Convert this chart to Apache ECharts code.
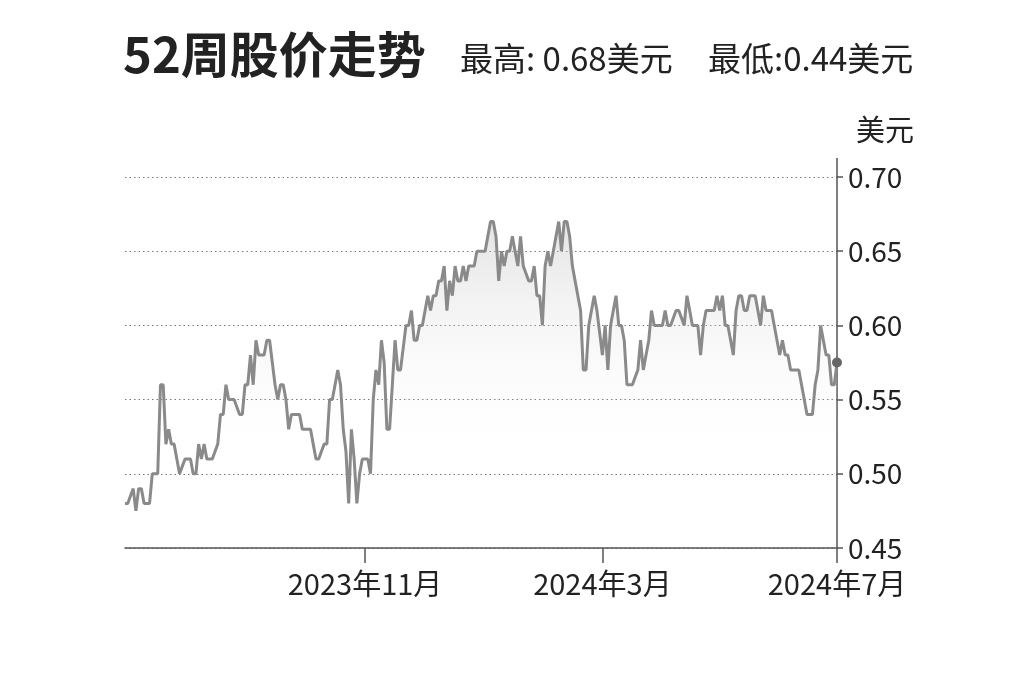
<!DOCTYPE html>
<html>
<head>
<meta charset="utf-8">
<script src="https://cdn.jsdelivr.net/npm/echarts@6/dist/echarts.min.js"></script>
<style>
  html, body { margin: 0; padding: 0; background: #fff; }
  #chart { width: 1024px; height: 682px; }
</style>
</head>
<body>
<div id="chart"></div>
<script>
// 每日收盘价(美元), 从 2023-06-30 起逐个交易日
const prices = [
    0.48, 0.48, 0.485, 0.49, 0.475, 0.49, 0.49, 0.48, 0.48, 0.48,
    0.50, 0.50, 0.50, 0.56, 0.56, 0.52, 0.53, 0.52, 0.52, 0.51,
    0.50, 0.505, 0.51, 0.51, 0.51, 0.50, 0.50, 0.52, 0.51, 0.52,
    0.51, 0.51, 0.51, 0.515, 0.52, 0.54, 0.54, 0.56, 0.55, 0.55,
    0.55, 0.545, 0.54, 0.54, 0.56, 0.56, 0.58, 0.56, 0.59, 0.58,
    0.58, 0.58, 0.59, 0.59, 0.575, 0.56, 0.55, 0.56, 0.56, 0.55,
    0.53, 0.54, 0.54, 0.54, 0.54, 0.53, 0.53, 0.53, 0.53, 0.52,
    0.51, 0.51, 0.515, 0.52, 0.52, 0.55, 0.55, 0.56, 0.57, 0.56,
    0.53, 0.515, 0.48, 0.53, 0.51, 0.48, 0.50, 0.51, 0.51, 0.51,
    0.50, 0.55, 0.57, 0.56, 0.59, 0.575, 0.53, 0.53, 0.56, 0.59,
    0.57, 0.57, 0.585, 0.60, 0.60, 0.61, 0.59, 0.59, 0.60, 0.60,
    0.61, 0.62, 0.61, 0.62, 0.62, 0.63, 0.63, 0.64, 0.61, 0.63,
    0.62, 0.64, 0.63, 0.63, 0.64, 0.63, 0.64, 0.64, 0.64, 0.65,
    0.65, 0.65, 0.65, 0.66, 0.67, 0.67, 0.66, 0.63, 0.65, 0.64,
    0.65, 0.65, 0.66, 0.65, 0.64, 0.66, 0.64, 0.635, 0.63, 0.63,
    0.64, 0.62, 0.62, 0.60, 0.64, 0.65, 0.64, 0.65, 0.66, 0.67,
    0.65, 0.67, 0.67, 0.66, 0.64, 0.63, 0.62, 0.61, 0.57, 0.57,
    0.60, 0.61, 0.62, 0.61, 0.595, 0.58, 0.60, 0.57, 0.60, 0.61,
    0.62, 0.60, 0.60, 0.59, 0.56, 0.56, 0.56, 0.565, 0.57, 0.59,
    0.57, 0.58, 0.59, 0.61, 0.60, 0.60, 0.60, 0.60, 0.61, 0.60,
    0.60, 0.605, 0.61, 0.61, 0.605, 0.60, 0.62, 0.61, 0.60, 0.60,
    0.60, 0.58, 0.60, 0.61, 0.61, 0.61, 0.61, 0.62, 0.61, 0.62,
    0.60, 0.60, 0.59, 0.58, 0.61, 0.62, 0.62, 0.61, 0.61, 0.62,
    0.62, 0.62, 0.61, 0.60, 0.62, 0.61, 0.61, 0.61, 0.60, 0.59,
    0.58, 0.59, 0.58, 0.58, 0.57, 0.57, 0.57, 0.57, 0.56, 0.55,
    0.54, 0.54, 0.54, 0.56, 0.57, 0.60, 0.59, 0.58, 0.58, 0.56,
    0.56, 0.575
];
const startDate = '2023-06-30';
const tickDates = ['2023-11-01', '2024-03-01', '2024-07-01'];
const yTicks = [0.45, 0.50, 0.55, 0.60, 0.65, 0.70];
const title = '52周股价走势';
const highText = '最高: 0.68美元';
const lowText = '最低:0.44美元';
const unit = '美元';

// 交易日(跳过周末)
const dates = [];
let d = new Date(startDate + 'T00:00:00Z');
while (dates.length < prices.length) {
    const wd = d.getUTCDay();
    if (wd !== 0 && wd !== 6) dates.push(d.toISOString().slice(0, 10));
    d = new Date(d.getTime() + 86400000);
}

const isTick = (idx, val) => tickDates.indexOf(val) >= 0;
const font = '"Noto Sans CJK SC", "Noto Sans", sans-serif';
const axisColor = '#555';
const subStyle = {fontSize: 33, fontWeight: 'normal', color: '#222', fontFamily: font};

const chart = echarts.init(document.getElementById('chart'));
chart.setOption({
    animation: false,
    backgroundColor: '#fff',
    textStyle: {fontFamily: font},
    title: [{
        text: title,
        left: 118,
        top: 25,
        textStyle: {fontSize: 49, fontWeight: 'bold', color: '#222', fontFamily: font}
    }, {
        text: highText,
        left: 455,
        top: 37,
        textStyle: subStyle
    }, {
        text: lowText,
        left: 703,
        top: 37,
        textStyle: subStyle
    }, {
        text: unit,
        left: 851,
        top: 110,
        textStyle: {fontSize: 29, fontWeight: 'normal', color: '#222', fontFamily: font}
    }],
    grid: {left: 125, right: 187, top: 177, bottom: 134},
    xAxis: {
        type: 'category',
        data: dates,
        boundaryGap: false,
        axisLine: {lineStyle: {color: axisColor, width: 1.5}},
        axisTick: {show: true, interval: isTick, length: 15, lineStyle: {color: axisColor, width: 1.5}},
        axisLabel: {
            interval: isTick,
            margin: 21,
            fontSize: 29,
            color: '#222',
            fontFamily: font,
            formatter: v => {
                const p = v.split('-');
                return p[0] + '年' + parseInt(p[1], 10) + '月';
            }
        },
        splitLine: {show: false}
    },
    yAxis: {
        type: 'value',
        position: 'right',
        min: yTicks[0],
        max: yTicks[yTicks.length - 1],
        interval: 0.05,
        axisLine: {show: true, lineStyle: {color: axisColor, width: 1.5}},
        axisTick: {show: true, length: 6, lineStyle: {color: axisColor, width: 1.5}},
        axisLabel: {
            margin: 11,
            fontSize: 28,
            color: '#222',
            fontFamily: font,
            formatter: v => v.toFixed(2)
        },
        splitLine: {show: true, lineStyle: {color: '#777', type: [1.5, 3], width: 1.2}}
    },
    graphic: [{
        // 纵轴向上延伸
        type: 'line',
        shape: {x1: 837, y1: 158, x2: 837, y2: 177},
        style: {stroke: axisColor, lineWidth: 1.5}
    }],
    series: [{
        type: 'line',
        data: prices,
        symbol: 'none',
        lineStyle: {color: '#8a8a8a', width: 3},
        areaStyle: {
            origin: 'start',
            color: new echarts.graphic.LinearGradient(0, 0, 0, 1, [
                {offset: 0, color: 'rgba(190,190,190,0.6)'},
                {offset: 0.75, color: 'rgba(255,255,255,0)'}
            ])
        },
        markPoint: {
            symbol: 'circle',
            symbolSize: 10,
            itemStyle: {color: '#666'},
            label: {show: false},
            data: [{coord: [prices.length - 1, prices[prices.length - 1]]}]
        }
    }]
});
</script>
</body>
</html>
